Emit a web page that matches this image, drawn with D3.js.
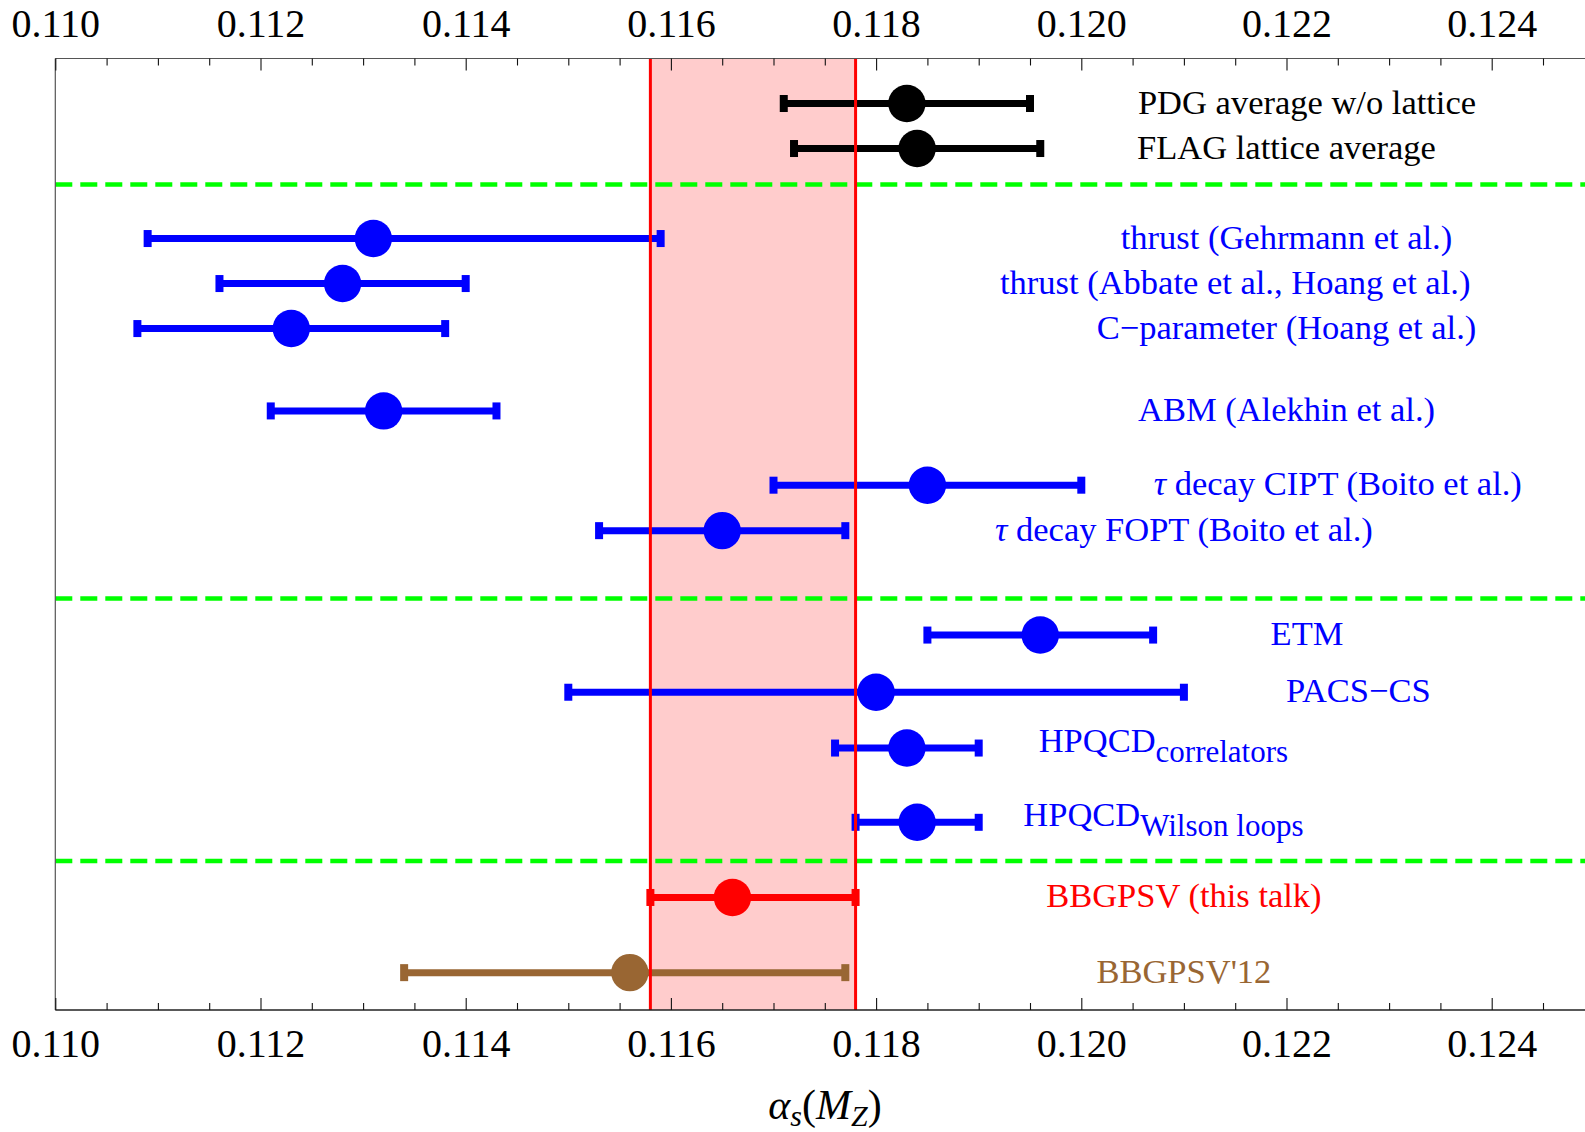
<!DOCTYPE html>
<html>
<head>
<meta charset="utf-8">
<script src="https://cdn.jsdelivr.net/npm/d3@7/dist/d3.min.js"></script>
<style>
  body { margin: 0; background: #fff; }
  text { font-family: "Liberation Serif", "Times New Roman", serif; }
</style>
</head>
<body>
<div id="chart"></div>
<script>

var names = [
  "PDG average w/o lattice",
  "FLAG lattice average",
  "thrust (Gehrmann et al.)",
  "thrust (Abbate et al., Hoang et al.)",
  "C\u2212parameter (Hoang et al.)",
  "ABM (Alekhin et al.)",
  "\u03c4 decay CIPT (Boito et al.)",
  "\u03c4 decay FOPT (Boito et al.)",
  "ETM",
  "PACS\u2212CS",
  "HPQCD",
  "HPQCD",
  "BBGPSV (this talk)",
  "BBGPSV'12"
];
var subs = [null, null, null, null, null, null, null, null, null, null,
  "correlators", "Wilson loops", null, null];

var central = [0.1183, 0.1184, 0.1131, 0.1128, 0.1123, 0.1132, 0.1185,
  0.1165, 0.1196, 0.1180, 0.1183, 0.1184, 0.1166, 0.1156];
var lower = [0.1171, 0.1172, 0.1109, 0.1116, 0.1108, 0.1121, 0.1170,
  0.1153, 0.1185, 0.1150, 0.1176, 0.1178, 0.1158, 0.1134];
var upper = [0.1195, 0.1196, 0.1159, 0.1140, 0.1138, 0.1143, 0.1200,
  0.1177, 0.1207, 0.1210, 0.1190, 0.1190, 0.1178, 0.1177];

// vertical row coordinate (plot units, 0 = top of frame)
var rowPos = [1.0, 2.0, 4.0, 5.0, 6.0, 7.83, 9.48, 10.49, 12.81, 14.08,
  15.32, 16.97, 18.64, 20.31];
var groups = ["avg", "avg", "blue", "blue", "blue", "blue", "blue", "blue",
  "blue", "blue", "blue", "blue", "now", "old"];
// x coordinate (in alpha_s) where each label is centred
var labelX = [0.1222, 0.1220, 0.1220, 0.1215, 0.1220, 0.1220, 0.1225,
  0.1210, 0.1222, 0.1227, 0.1208, 0.1208, 0.1210, 0.1210];

var dividers = [2.8, 12.0, 17.83];
var band = [0.1158, 0.1178];
var majorTicks = [0.110, 0.112, 0.114, 0.116, 0.118, 0.120, 0.122, 0.124];

var colors = { avg: "#000000", blue: "#0000ff", now: "#ff0000", old: "#996633" };

var W = 1585, H = 1132;
var padL = 55.3, padT = 58.5, padB = 1010;

var x = d3.scaleLinear().domain([0.110, 0.124]).range([padL, 1491.7]);
var y = d3.scaleLinear().domain([0, 21.14]).range([padT, padB]);

var svg = d3.select("#chart").append("svg")
  .attr("width", W)
  .attr("height", H);

svg.append("rect").attr("width", W).attr("height", H).attr("fill", "#fff");

// shaded band
svg.append("rect")
  .attr("x", x(band[0]))
  .attr("y", padT)
  .attr("width", x(band[1]) - x(band[0]))
  .attr("height", padB - padT)
  .attr("fill", "#ffcccc");

// group separators
svg.selectAll("line.div")
  .data(dividers)
  .enter().append("line")
  .attr("class", "div")
  .attr("x1", padL).attr("x2", W + 10)
  .attr("y1", d => y(d)).attr("y2", d => y(d))
  .attr("stroke", "#00ff00")
  .attr("stroke-width", 4.5)
  .attr("stroke-dasharray", "17,8");

// error bars
var idx = d3.range(names.length);

svg.selectAll("line.bar")
  .data(idx)
  .enter().append("line")
  .attr("class", "bar")
  .attr("x1", i => x(lower[i])).attr("x2", i => x(upper[i]))
  .attr("y1", i => y(rowPos[i])).attr("y2", i => y(rowPos[i]))
  .attr("stroke", i => colors[groups[i]])
  .attr("stroke-width", 7);

var caps = [];
idx.forEach(function(i){ caps.push([lower[i], i]); caps.push([upper[i], i]); });

svg.selectAll("rect.cap")
  .data(caps)
  .enter().append("rect")
  .attr("class", "cap")
  .attr("x", d => x(d[0]) - 4)
  .attr("y", d => y(rowPos[d[1]]) - 8.5)
  .attr("width", 8)
  .attr("height", 17)
  .attr("fill", d => colors[groups[d[1]]]);

svg.selectAll("circle.pt")
  .data(idx)
  .enter().append("circle")
  .attr("class", "pt")
  .attr("cx", i => x(central[i]))
  .attr("cy", i => y(rowPos[i]))
  .attr("r", 18.7)
  .attr("fill", i => colors[groups[i]]);

// band edges
svg.selectAll("line.edge")
  .data(band)
  .enter().append("line")
  .attr("x1", d => x(d)).attr("x2", d => x(d))
  .attr("y1", padT).attr("y2", padB)
  .attr("stroke", "#ff0000")
  .attr("stroke-width", 3);

// labels
var labels = svg.selectAll("text.lab")
  .data(idx)
  .enter().append("text")
  .attr("class", "lab")
  .attr("x", i => x(labelX[i]))
  .attr("y", i => y(rowPos[i]) + (subs[i] ? 4 : 10))
  .attr("text-anchor", "middle")
  .attr("font-size", 34.5)
  .attr("fill", i => colors[groups[i]]);

labels.each(function(i){
  var t = d3.select(this);
  var s = names[i];
  if (s.charAt(0) === "\u03c4") {
    t.append("tspan").attr("font-style", "italic").text("\u03c4");
    s = s.slice(1);
  }
  t.append("tspan").text(s);
  if (subs[i]) {
    t.append("tspan").attr("dy", 10).attr("font-size", 31).text(subs[i]);
  }
});

// frame
svg.append("line").attr("x1", padL).attr("x2", W + 10).attr("y1", padT).attr("y2", padT)
  .attr("stroke", "#555").attr("stroke-width", 1.2);
svg.append("line").attr("x1", padL).attr("x2", W + 10).attr("y1", padB).attr("y2", padB)
  .attr("stroke", "#222").attr("stroke-width", 1.5);
svg.append("line").attr("x1", padL).attr("x2", padL).attr("y1", padT).attr("y2", padB)
  .attr("stroke", "#555").attr("stroke-width", 1.2);

// axes
var minorTicks = d3.range(0.1105, 0.1252, 0.0005).filter(function(v){
  return Math.abs(Math.round(v / 0.002) * 0.002 - v) > 1e-6;
});
var fmt = d3.format(".3f");

function styleAxis(g) {
  g.select(".domain").remove();
  g.selectAll(".tick line").attr("stroke", "#111").attr("stroke-width", 1.1);
  g.selectAll(".tick text")
    .attr("font-family", "Liberation Serif, serif")
    .attr("font-size", 40)
    .attr("fill", "#000");
}

svg.append("g").attr("transform", "translate(0," + padT + ")")
  .call(d3.axisTop(x).tickValues(majorTicks).tickFormat(fmt).tickSize(-12).tickPadding(22))
  .call(styleAxis);
svg.append("g").attr("transform", "translate(0," + padT + ")")
  .call(d3.axisTop(x).tickValues(minorTicks).tickFormat("").tickSize(-7))
  .call(styleAxis);
svg.append("g").attr("transform", "translate(0," + padB + ")")
  .call(d3.axisBottom(x).tickValues(majorTicks).tickFormat(fmt).tickSize(-12).tickPadding(19))
  .call(styleAxis);
svg.append("g").attr("transform", "translate(0," + padB + ")")
  .call(d3.axisBottom(x).tickValues(minorTicks).tickFormat("").tickSize(-7))
  .call(styleAxis);

// axis title
var title = svg.append("text")
  .attr("x", 825)
  .attr("y", 1119)
  .attr("text-anchor", "middle")
  .attr("font-size", 42)
  .attr("fill", "#000");
title.append("tspan").attr("font-style", "italic").text("\u03b1");
title.append("tspan").attr("font-style", "italic").attr("font-size", 30).attr("dy", 7).text("s");
title.append("tspan").attr("dy", -7).text("(");
title.append("tspan").attr("font-style", "italic").text("M");
title.append("tspan").attr("font-style", "italic").attr("font-size", 30).attr("dy", 7).text("Z");
title.append("tspan").attr("dy", -7).text(")");

</script>
</body>
</html>
